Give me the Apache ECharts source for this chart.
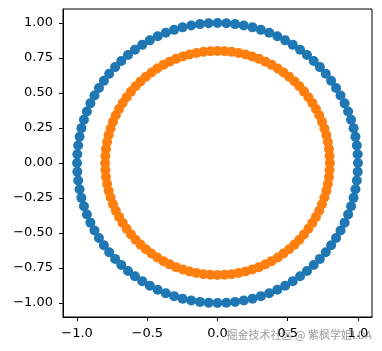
<!DOCTYPE html>
<html>
<head>
<meta charset="utf-8">
<script src="https://cdn.jsdelivr.net/npm/echarts@6/dist/echarts.min.js"></script>
<style>
  html, body { margin: 0; padding: 0; background: #fff; }
  #chart { width: 382px; height: 351px; }
</style>
</head>
<body>
<div id="chart"></div>
<script>
// outer ring (blue)
const outerX = [1, 0.998, 0.992, 0.982, 0.969, 0.951, 0.930, 0.905, 0.876, 0.844, 0.809, 0.771, 0.729, 0.685, 0.637, 0.588, 0.536, 0.482, 0.426, 0.368, 0.309, 0.249, 0.187, 0.125, 0.063, 0,
  -0.063, -0.125, -0.187, -0.249, -0.309, -0.368, -0.426, -0.482, -0.536, -0.588, -0.637, -0.685, -0.729, -0.771, -0.809, -0.844, -0.876, -0.905, -0.930, -0.951, -0.969, -0.982, -0.992, -0.998, -1,
  -0.998, -0.992, -0.982, -0.969, -0.951, -0.930, -0.905, -0.876, -0.844, -0.809, -0.771, -0.729, -0.685, -0.637, -0.588, -0.536, -0.482, -0.426, -0.368, -0.309, -0.249, -0.187, -0.125, -0.063, 0,
  0.063, 0.125, 0.187, 0.249, 0.309, 0.368, 0.426, 0.482, 0.536, 0.588, 0.637, 0.685, 0.729, 0.771, 0.809, 0.844, 0.876, 0.905, 0.930, 0.951, 0.969, 0.982, 0.992, 0.998]
const outerY = [0, 0.063, 0.125, 0.187, 0.249, 0.309, 0.368, 0.426, 0.482, 0.536, 0.588, 0.637, 0.685, 0.729, 0.771, 0.809, 0.844, 0.876, 0.905, 0.930, 0.951, 0.969, 0.982, 0.992, 0.998, 1,
  0.998, 0.992, 0.982, 0.969, 0.951, 0.930, 0.905, 0.876, 0.844, 0.809, 0.771, 0.729, 0.685, 0.637, 0.588, 0.536, 0.482, 0.426, 0.368, 0.309, 0.249, 0.187, 0.125, 0.063, 0,
  -0.063, -0.125, -0.187, -0.249, -0.309, -0.368, -0.426, -0.482, -0.536, -0.588, -0.637, -0.685, -0.729, -0.771, -0.809, -0.844, -0.876, -0.905, -0.930, -0.951, -0.969, -0.982, -0.992, -0.998, -1,
  -0.998, -0.992, -0.982, -0.969, -0.951, -0.930, -0.905, -0.876, -0.844, -0.809, -0.771, -0.729, -0.685, -0.637, -0.588, -0.536, -0.482, -0.426, -0.368, -0.309, -0.249, -0.187, -0.125, -0.063]
// inner ring (orange)
const innerX = [0.8, 0.798, 0.794, 0.786, 0.775, 0.761, 0.744, 0.724, 0.701, 0.675, 0.647, 0.616, 0.583, 0.548, 0.510, 0.470, 0.429, 0.385, 0.341, 0.295, 0.247, 0.199, 0.150, 0.100, 0.050, 0,
  -0.050, -0.100, -0.150, -0.199, -0.247, -0.295, -0.341, -0.385, -0.429, -0.470, -0.510, -0.548, -0.583, -0.616, -0.647, -0.675, -0.701, -0.724, -0.744, -0.761, -0.775, -0.786, -0.794, -0.798, -0.8,
  -0.798, -0.794, -0.786, -0.775, -0.761, -0.744, -0.724, -0.701, -0.675, -0.647, -0.616, -0.583, -0.548, -0.510, -0.470, -0.429, -0.385, -0.341, -0.295, -0.247, -0.199, -0.150, -0.100, -0.050, 0,
  0.050, 0.100, 0.150, 0.199, 0.247, 0.295, 0.341, 0.385, 0.429, 0.470, 0.510, 0.548, 0.583, 0.616, 0.647, 0.675, 0.701, 0.724, 0.744, 0.761, 0.775, 0.786, 0.794, 0.798]
const innerY = [0, 0.050, 0.100, 0.150, 0.199, 0.247, 0.295, 0.341, 0.385, 0.429, 0.470, 0.510, 0.548, 0.583, 0.616, 0.647, 0.675, 0.701, 0.724, 0.744, 0.761, 0.775, 0.786, 0.794, 0.798, 0.8,
  0.798, 0.794, 0.786, 0.775, 0.761, 0.744, 0.724, 0.701, 0.675, 0.647, 0.616, 0.583, 0.548, 0.510, 0.470, 0.429, 0.385, 0.341, 0.295, 0.247, 0.199, 0.150, 0.100, 0.050, 0,
  -0.050, -0.100, -0.150, -0.199, -0.247, -0.295, -0.341, -0.385, -0.429, -0.470, -0.510, -0.548, -0.583, -0.616, -0.647, -0.675, -0.701, -0.724, -0.744, -0.761, -0.775, -0.786, -0.794, -0.798, -0.8,
  -0.798, -0.794, -0.786, -0.775, -0.761, -0.744, -0.724, -0.701, -0.675, -0.647, -0.616, -0.583, -0.548, -0.510, -0.470, -0.429, -0.385, -0.341, -0.295, -0.247, -0.199, -0.150, -0.100, -0.050]

const xTicks = [-1, -0.5, 0, 0.5, 1]
const yTicks = [-1, -0.75, -0.5, -0.25, 0, 0.25, 0.5, 0.75, 1]

const font = 'DejaVu Sans'
const minus = (s) => s.replace('-', '\u2212')

function axisBase(ticks, digits, margin) {
  return {
    type: 'value',
    min: -1.1,
    max: 1.1,
    splitLine: { show: false },
    axisLine: { show: true, onZero: false, lineStyle: { color: '#000', width: 1 } },
    axisTick: { show: true, inside: false, length: 4, customValues: ticks, lineStyle: { color: '#000' } },
    axisLabel: {
      customValues: ticks,
      margin,
      color: '#000',
      fontSize: 13,
      fontFamily: font,
      formatter: (v) => minus(Number(v).toFixed(digits))
    }
  }
}

const chart = echarts.init(document.getElementById('chart'), null, { renderer: 'canvas' })
chart.setOption({
  animation: false,
  grid: {
    left: 63, right: 10, top: 9, bottom: 34,
    show: true, borderColor: '#000', borderWidth: 1, backgroundColor: 'transparent'
  },
  xAxis: axisBase(xTicks, 1, 10),
  yAxis: axisBase(yTicks, 2, 10),
  series: [
    {
      type: 'scatter',
      symbol: 'circle',
      symbolSize: 10,
      itemStyle: { color: '#1f77b4', opacity: 1 },
      data: outerX.map((x, i) => [x, outerY[i]])
    },
    {
      type: 'scatter',
      symbol: 'circle',
      symbolSize: 10,
      itemStyle: { color: '#ff7f0e', opacity: 1 },
      data: innerX.map((x, i) => [x, innerY[i]])
    }
  ],
  graphic: [
    {
      type: 'text',
      right: 10,
      top: 329,
      style: {
        text: '掘金技术社区 @ 紫枫学姐LDA',
        fill: 'rgba(120,120,120,0.75)',
        font: '11px "Noto Sans CJK SC"'
      }
    }
  ]
})
</script>
</body>
</html>
